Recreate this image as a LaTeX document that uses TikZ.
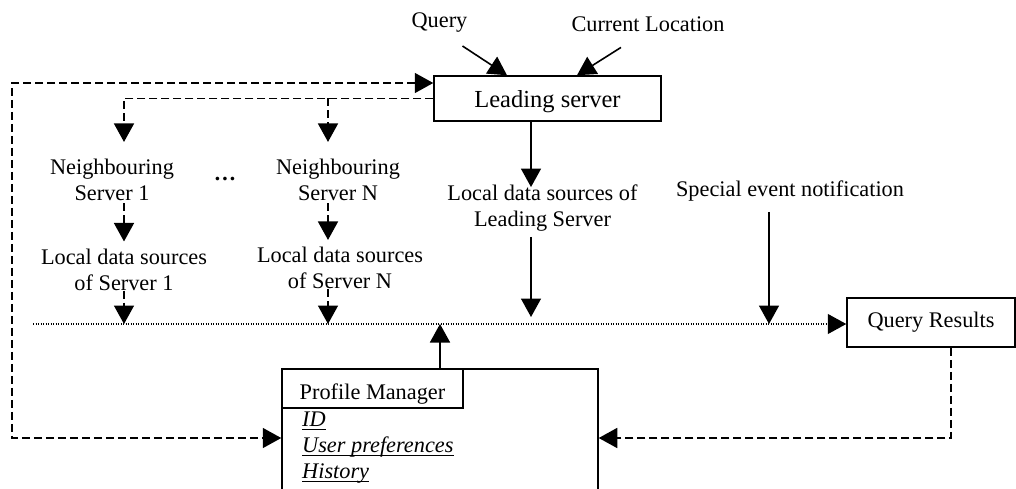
\documentclass[tikz,border=0pt]{standalone}
\usepackage{fontspec}
\setmainfont{Liberation Serif}
\usepackage{tikz}
\usetikzlibrary{arrows.meta,positioning}

% thick underline for the profile entries
\newcommand{\ulitem}[1]{\leavevmode\setbox0\hbox{\itshape #1}\rlap{\rule[-3.5pt]{\wd0}{1.6pt}}\box0}

\begin{document}
\begin{tikzpicture}[x=1pt, y=-1pt,
  >={Triangle[length=18.5pt,width=20pt]},
  boxnode/.style={draw, line width=1.5pt, inner sep=0pt, font=\txtsize},
  txtnode/.style={align=center, inner sep=0pt, font=\txtsize},
  solidarr/.style={->, line width=1.6pt},
  dasharr/.style={->, line width=1.6pt, dash pattern=on 8pt off 4pt},
  dotline/.style={->, line width=1.2pt, dash pattern=on 1.2pt off 1.3pt}]
\def\txtsize{\fontsize{22.3}{26}\selectfont}
\def\leadsize{\fontsize{24.5}{28}\selectfont}
\useasboundingbox (0,0) rectangle (1016,489);

% LEADING SERVER
\node[boxnode, minimum width=227pt, minimum height=45pt, font=\leadsize, text height=19pt, text depth=0pt] (lead) at (547.5,98.5) {Leading server};
\node[txtnode, anchor=base] (query) at (439.5,28) {Query};
\node[txtnode, anchor=base] (curloc) at (648,32) {Current Location};
\draw[solidarr] ([shift={(23pt,-13pt)}]query.south) -- ([xshift=-40.5pt]lead.north);
\draw[solidarr] ([shift={(-27pt,-15pt)}]curloc.south) -- ([xshift=29.5pt]lead.north);

% NEIGHBOURING SERVERS
\node[txtnode] (nb1) at (112,180) {Neighbouring\\Server 1};
\node[txtnode] (nbN) at (338,180) {Neighbouring\\Server N};
\node[txtnode, anchor=base] (dots) at (225,180) {\textbf{\ldots}};
\draw[dasharr] (lead.west) -| ([shift={(12pt,17pt)}]nb1.north);
\draw[dasharr] ([xshift=-10pt]nbN.north |- lead.west) -- ([shift={(-10pt,17pt)}]nbN.north);

% LOCAL DATA SOURCES
\node[txtnode] (lds1) at (124,269.5) {Local data sources\\of Server 1};
\node[txtnode] (ldsN) at (340,268) {Local data sources\\of Server N};
\node[txtnode] (ldsL) at (542.5,208.5) {Local data sources of\\Leading Server};
\node[txtnode, anchor=base] (spec) at (790,196) {Special event notification};
\draw[dasharr] ([yshift=-2pt]lds1.north |- nb1.south) -- ([yshift=7pt]lds1.north);
\draw[dasharr] ([shift={(-10pt,-2pt)}]nbN.south) -- ([shift={(-12pt,7pt)}]ldsN.north);
\draw[solidarr] ([xshift=-16.5pt]lead.south) -- ([shift={(-11.5pt,-2pt)}]ldsL.north);

% RESULTS LINE
\coordinate (busL) at (33,324);
\node[boxnode, minimum width=168pt, minimum height=49pt] (qres) at (931,322.5) {Query Results};
\draw[dotline] (busL) -- (busL -| qres.west);
\draw[dasharr] (lds1.south) -- (lds1.south |- busL);
\draw[dasharr] ([xshift=-12pt]ldsN.south) -- ([xshift=-12pt]ldsN.south |- busL);
\draw[solidarr] ([shift={(-11.5pt,-5pt)}]ldsL.south) -- ([shift={(-11.5pt,7pt)}]ldsL.south |- busL);
\draw[solidarr] ([shift={(-21pt,-11pt)}]spec.south) -- ([xshift=-21pt]spec.south |- busL);

% PROFILE MANAGER
\node[boxnode, minimum width=316pt, minimum height=131pt] (pm) at (440,434.5) {};
\node[boxnode, minimum width=181pt, minimum height=39pt, text height=22pt, text depth=0pt, anchor=north west] (pmhead) at (pm.north west) {Profile Manager};
\node[txtnode, align=left, anchor=north west] (pmitems) at (302,412) {\ulitem{ID}\\\ulitem{User preferences}\\\ulitem{History}};
\draw[solidarr] (pm.north) -- (pm.north |- busL);

% FEEDBACK LOOPS
\coordinate (loopTop) at (12,83);
\coordinate (loopBot) at (12,438);
\draw[dasharr, <->] ([yshift=15.5pt]lead.west) -- (loopTop) -- (loopBot) -- (loopBot -| pm.west);
\draw[dasharr] ([xshift=20pt]qres.south) |- (loopBot -| pm.east);
\end{tikzpicture}
\end{document}
